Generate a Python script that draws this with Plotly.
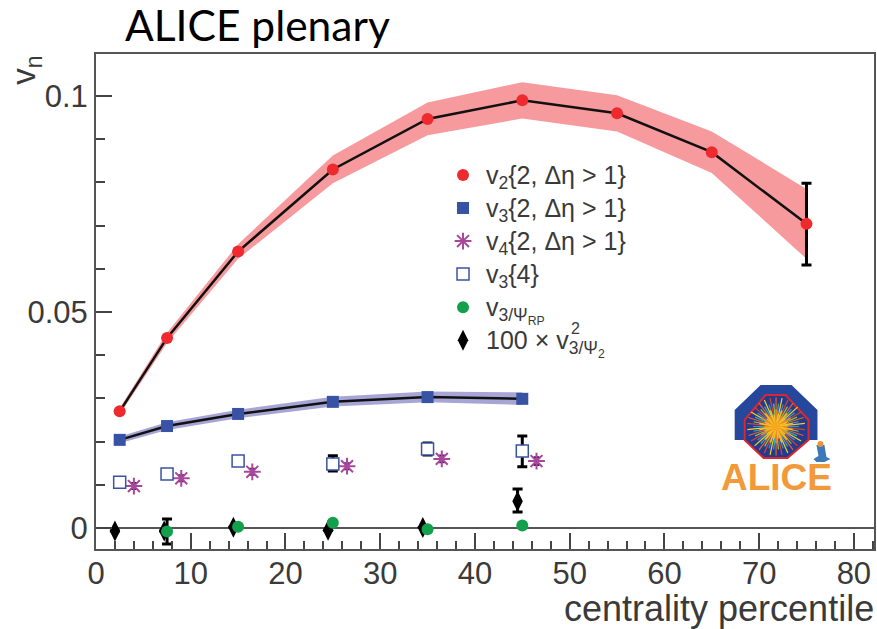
import math
import plotly.graph_objects as go

W, H = 877, 629
L, R, T, B = 95.5, 875.7, 54, 549

# v2{2, dEta>1}
v2_x = [2.5, 7.5, 15, 25, 35, 45, 55, 65, 75]
v2_y = [0.027, 0.044, 0.064, 0.083, 0.0947, 0.099, 0.096, 0.087, 0.0704]
v2_hi = [0.0277, 0.0452, 0.0657, 0.0862, 0.0985, 0.1032, 0.1002, 0.0918, 0.0785]
v2_lo = [0.0263, 0.0428, 0.0623, 0.0798, 0.0909, 0.0948, 0.0918, 0.0822, 0.0623]
v2_err_x = [75]
v2_err_y = [0.0704]
v2_err_hi = [0.0798]
v2_err_lo = [0.0609]

# v3{2, dEta>1}
v3_x = [2.5, 7.5, 15, 25, 35, 45]
v3_y = [0.0204, 0.0236, 0.0264, 0.0292, 0.0303, 0.0299]
v3_hi = [0.0212, 0.0245, 0.0274, 0.0304, 0.0316, 0.0314]
v3_lo = [0.0196, 0.0227, 0.0254, 0.0281, 0.0291, 0.0285]

# v4{2, dEta>1}
v4_x = [4, 9, 16.5, 26.5, 36.5, 46.5]
v4_y = [0.0097, 0.0115, 0.013, 0.0143, 0.016, 0.0155]
v4_err = [0.0007, 0.0007, 0.0007, 0.0007, 0.0008, 0.0009]

# v3{4}
v34_x = [2.5, 7.5, 15, 25, 35, 45]
v34_y = [0.0106, 0.0125, 0.0155, 0.0148, 0.0183, 0.0178]
v34_hi = [0.0106, 0.0125, 0.0155, 0.0167, 0.0197, 0.0213]
v34_lo = [0.0106, 0.0125, 0.0155, 0.0132, 0.0169, 0.0142]

# v3/Psi_RP
rp_x = [7.5, 15, 25, 35, 45]
rp_y = [-0.0008, 0.0003, 0.0012, -0.0003, 0.0006]
rp_hi = [0.0021, 0.0003, 0.0012, -0.0003, 0.0006]
rp_lo = [-0.0037, 0.0003, 0.0012, -0.0003, 0.0006]

# 100 x v^2 3/Psi2
d_x = [2.0, 7.2, 14.5, 24.5, 34.5, 44.5]
d_y = [-0.0007, -0.0007, 0.0002, -0.0005, 0.0001, 0.0062]
d_hi = [-0.0007, -0.0007, 0.0002, -0.0005, 0.0001, 0.009]
d_lo = [-0.0007, -0.0007, 0.0002, -0.0005, 0.0001, 0.0037]

x_major = [0, 10, 20, 30, 40, 50, 60, 70, 80]
y_major = [0, 0.05, 0.1]
y_labels = ["0", "0.05", "0.1"]

names = ["v<sub>2</sub>{2, Δη > 1}", "v<sub>3</sub>{2, Δη > 1}", "v<sub>4</sub>{2, Δη > 1}",
         "v<sub>3</sub>{4}", "v<sub>3/Ψ<sub>RP</sub></sub>", "100 × v<sub>3/Ψ<sub>2</sub></sub>"]
names = [f'<span style="font-size:25px">{n}</span>' for n in names]

RED, BLUE, PURPLE, GREEN = "#ee2a2e", "#3953a4", "#a8489c", "#12a04c"


def ebar(y, hi, lo):
    return dict(type="data", symmetric=False,
                array=[h - v for h, v in zip(hi, y)],
                arrayminus=[v - l for l, v in zip(lo, y)],
                color="#000000", thickness=3, width=5)


fig = go.Figure()
fig.add_trace(go.Scatter(x=v2_x + v2_x[::-1], y=v2_hi + v2_lo[::-1], fill="toself", mode="lines",
                         line=dict(width=0), fillcolor="#f79a9e", showlegend=False, hoverinfo="skip"))
fig.add_trace(go.Scatter(x=v3_x + v3_x[::-1], y=v3_hi + v3_lo[::-1], fill="toself", mode="lines",
                         line=dict(width=0), fillcolor="#a7a5d6", showlegend=False, hoverinfo="skip"))
fig.add_trace(go.Scatter(x=v2_x, y=v2_y, mode="lines", line=dict(color="#111", width=2.5), showlegend=False))
fig.add_trace(go.Scatter(x=v3_x, y=v3_y, mode="lines", line=dict(color="#111", width=2.5), showlegend=False))
fig.add_trace(go.Scatter(x=v2_err_x, y=v2_err_y, mode="markers", marker=dict(size=1, color="#000"),
                         error_y=ebar(v2_err_y, v2_err_hi, v2_err_lo), showlegend=False))
fig.add_trace(go.Scatter(x=v2_x, y=v2_y, mode="markers", name=names[0], legendrank=1,
                         marker=dict(symbol="circle", size=12, color=RED)))
fig.add_trace(go.Scatter(x=v3_x, y=v3_y, mode="markers", name=names[1], legendrank=2,
                         marker=dict(symbol="square", size=12, color=BLUE)))
fig.add_trace(go.Scatter(x=v4_x, y=v4_y, mode="markers", name=names[2], legendrank=3,
                         error_y=dict(type="data", array=v4_err, color="#4a1a4a", thickness=2, width=3),
                         marker=dict(symbol="asterisk-open", size=14, color=PURPLE,
                                     line=dict(color=PURPLE, width=2))))
fig.add_trace(go.Scatter(x=v34_x, y=v34_y, mode="markers", name=names[3], legendrank=4,
                         error_y=ebar(v34_y, v34_hi, v34_lo),
                         marker=dict(symbol="square", size=12, color="#ffffff",
                                     line=dict(color=BLUE, width=1.5))))
fig.add_trace(go.Scatter(x=d_x, y=d_y, mode="markers", name=names[5], legendrank=6,
                         error_y=ebar(d_y, d_hi, d_lo),
                         marker=dict(symbol="diamond-tall", size=15, color="#000000")))
fig.add_trace(go.Scatter(x=rp_x, y=rp_y, mode="markers", name=names[4], legendrank=5,
                         error_y=ebar(rp_y, rp_hi, rp_lo),
                         marker=dict(symbol="circle", size=12, color=GREEN)))


def px(x):
    return (x - L) / (R - L)


def py(y):
    return (B - y) / (B - T)


def poly(points, fill, line=None, lw=0):
    path = "M" + " L".join(f"{px(a):.5f},{py(b):.5f}" for a, b in points) + " Z"
    return dict(type="path", xref="paper", yref="paper", path=path, fillcolor=fill,
                line=dict(color=line or fill, width=lw), layer="below")


shapes = [
    poly([(736, 440), (736, 410), (762, 385), (793, 385), (819, 410), (819, 440), (800, 440), (776, 400), (752, 440)],
         "#26489c"),
    poly([(746, 420), (767, 395), (787, 395), (810, 420), (810, 440), (789, 458), (765, 458), (746, 440)],
         "#233a8e", "#d8282e", 2),
]
cx, cy = 777.5, 426.5
ray_cols = ["#3f8fd0", "#d8432c", "#8cc152", "#e8632c", "#37a7c4", "#f6d31e"]
for i in range(60):
    a = 2 * math.pi * i / 60
    r = 29 if i % 2 else 23
    shapes.append(dict(type="line", xref="paper", yref="paper",
                       x0=px(cx), y0=py(cy),
                       x1=px(cx + r * math.cos(a)), y1=py(cy + r * math.sin(a)),
                       line=dict(color=ray_cols[i % 6], width=1.2)))
for i in range(36):
    a = 2 * math.pi * i / 36
    r = 17 if i % 2 else 12
    shapes.append(dict(type="line", xref="paper", yref="paper",
                       x0=px(cx), y0=py(cy),
                       x1=px(cx + r * math.cos(a)), y1=py(cy + r * math.sin(a)),
                       line=dict(color="#f6c01e" if i % 3 else "#f08a24", width=1.5)))
shapes.append(dict(type="circle", xref="paper", yref="paper", x0=px(773), x1=px(782), y0=py(431), y1=py(422),
                   fillcolor="#f7a823", line=dict(width=0)))
shapes.append(poly([(818, 445), (826, 445), (828, 457), (832, 459), (826, 462), (818, 462), (815, 459), (820, 456)],
                   "#3d78b8"))
shapes.append(dict(type="circle", xref="paper", yref="paper", x0=px(819), x1=px(825), y0=py(447), y1=py(441),
                   fillcolor="#e8963c", line=dict(width=0)))

TICK = "#3a3a3a"
fig.update_layout(
    width=W, height=H, autosize=False,
    margin=dict(l=L, r=W - R, t=T, b=H - B, pad=0),
    paper_bgcolor="white", plot_bgcolor="white",
    font=dict(family="Liberation Sans", color=TICK, size=24),
    shapes=shapes,
    legend=dict(x=px(440.5), y=py(153.5), xanchor="left", yanchor="top", bgcolor="rgba(0,0,0,0)",
                font=dict(size=23.1, color=TICK, family="Liberation Sans"), traceorder="normal",
                itemwidth=36, tracegroupgap=0),
    xaxis=dict(range=[0, (R - L) / 9.5], tickvals=x_major, ticks="inside", ticklen=16, tickwidth=1.5,
               tickcolor="#444", showgrid=False, zeroline=False, showline=True, linecolor="#555",
               linewidth=2, mirror=True, tickfont=dict(size=31, color=TICK), ticklabelstandoff=-4,
               minor=dict(dtick=2, ticks="inside", ticklen=8, tickwidth=1.5, tickcolor="#444", showgrid=False)),
    yaxis=dict(range=[(528 - B) / 4320, (528 - T) / 4320], tickvals=y_major, ticktext=y_labels, ticks="inside",
               ticklen=16, tickwidth=1.5, tickcolor="#444", showgrid=False, zeroline=True, zerolinecolor="#555",
               zerolinewidth=2, showline=True, linecolor="#555", linewidth=2, mirror=True,
               tickfont=dict(size=31, color=TICK),
               minor=dict(dtick=0.01, ticks="inside", ticklen=9, tickwidth=1.5, tickcolor="#444", showgrid=False)),
    annotations=[
        dict(text="ALICE plenary", xref="paper", yref="paper", x=px(123), y=py(52), xanchor="left", yanchor="bottom",
             showarrow=False, font=dict(family="Lato", size=42.5, color="#000")),
        dict(text="centrality percentile", xref="paper", yref="paper", x=px(875.5), y=py(629), xanchor="right",
             yanchor="bottom", showarrow=False, borderpad=0, borderwidth=0, font=dict(size=36, color=TICK)),
        dict(text="v<sub>n</sub>", xref="paper", yref="paper", x=px(25), y=py(70), xanchor="center", yanchor="middle",
             textangle=-90, showarrow=False, font=dict(size=33, color=TICK)),
        dict(text="2", xref="paper", yref="paper", x=px(576), y=py(328), xanchor="center", yanchor="middle",
             showarrow=False, borderpad=0, borderwidth=0, font=dict(size=16, color=TICK)),
        dict(text="<b>ALICE</b>", xref="paper", yref="paper", x=px(778), y=py(477), xanchor="center", yanchor="middle",
             showarrow=False, font=dict(size=37, color="#f2993a")),
    ],
)
fig.write_html("out.html", config=dict(displayModeBar=False),
               post_script="document.body.style.margin='0';document.documentElement.style.overflow='hidden';")
